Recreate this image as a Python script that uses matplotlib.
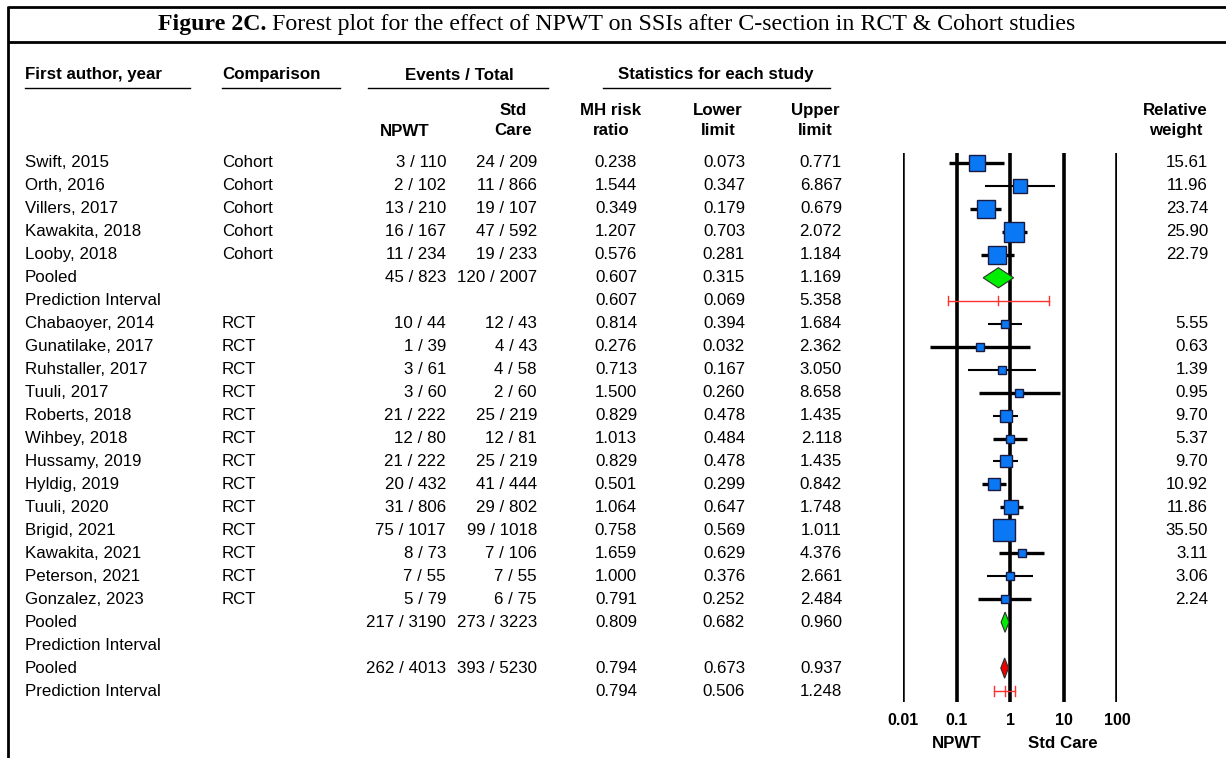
import numpy as np
import matplotlib
matplotlib.use("Agg")
import matplotlib.pyplot as plt
import matplotlib.transforms as mtransforms
from matplotlib.patches import Polygon

# ---- data ----
authors = ["Swift, 2015", "Orth, 2016", "Villers, 2017", "Kawakita, 2018", "Looby, 2018",
           "Pooled", "Prediction Interval",
           "Chabaoyer, 2014", "Gunatilake, 2017", "Ruhstaller, 2017", "Tuuli, 2017",
           "Roberts, 2018", "Wihbey, 2018", "Hussamy, 2019", "Hyldig, 2019", "Tuuli, 2020",
           "Brigid, 2021", "Kawakita, 2021", "Peterson, 2021", "Gonzalez, 2023",
           "Pooled", "Prediction Interval", "Pooled", "Prediction Interval"]
comparison = ["Cohort", "Cohort", "Cohort", "Cohort", "Cohort", "", "",
              "RCT", "RCT", "RCT", "RCT", "RCT", "RCT", "RCT", "RCT", "RCT", "RCT", "RCT",
              "RCT", "RCT", "", "", "", ""]
npwt = ["3 / 110", "2 / 102", "13 / 210", "16 / 167", "11 / 234", "45 / 823", "",
        "10 / 44", "1 / 39", "3 / 61", "3 / 60", "21 / 222", "12 / 80", "21 / 222",
        "20 / 432", "31 / 806", "75 / 1017", "8 / 73", "7 / 55", "5 / 79",
        "217 / 3190", "", "262 / 4013", ""]
std_care = ["24 / 209", "11 / 866", "19 / 107", "47 / 592", "19 / 233", "120 / 2007", "",
            "12 / 43", "4 / 43", "4 / 58", "2 / 60", "25 / 219", "12 / 81", "25 / 219",
            "41 / 444", "29 / 802", "99 / 1018", "7 / 106", "7 / 55", "6 / 75",
            "273 / 3223", "", "393 / 5230", ""]
rr = [0.238, 1.544, 0.349, 1.207, 0.576, 0.607, 0.607,
      0.814, 0.276, 0.713, 1.500, 0.829, 1.013, 0.829, 0.501, 1.064, 0.758, 1.659,
      1.000, 0.791, 0.809, None, 0.794, 0.794]
lower = [0.073, 0.347, 0.179, 0.703, 0.281, 0.315, 0.069,
         0.394, 0.032, 0.167, 0.260, 0.478, 0.484, 0.478, 0.299, 0.647, 0.569, 0.629,
         0.376, 0.252, 0.682, None, 0.673, 0.506]
upper = [0.771, 6.867, 0.679, 2.072, 1.184, 1.169, 5.358,
         1.684, 2.362, 3.050, 8.658, 1.435, 2.118, 1.435, 0.842, 1.748, 1.011, 4.376,
         2.661, 2.484, 0.960, None, 0.937, 1.248]
weight = [15.61, 11.96, 23.74, 25.90, 22.79, None, None,
          5.55, 0.63, 1.39, 0.95, 9.70, 5.37, 9.70, 10.92, 11.86, 35.50, 3.11,
          3.06, 2.24, None, None, None, None]
kind = ["study"] * 5 + ["pooled", "pi"] + ["study"] * 13 + ["pooled", "pi", "overall", "pi"]
axis_ticks = [0.01, 0.1, 1, 10, 100]
axis_labels = ["0.01", "0.1", "1", "10", "100"]

# line weight of each study CI (as drawn in the source), one per study row
thick_ci = [True, False, True, True, True,
            False, True, False, True, False, True, False, True, True, True, True, False, True]

W, H = 1226, 758
fig = plt.figure(figsize=(W / 100, H / 100), dpi=100)
plt.rcParams["font.family"] = ["Liberation Sans", "DejaVu Sans"]

bg = fig.add_axes([0, 0, 1, 1])
bg.set_xlim(0, W)
bg.set_ylim(H, 0)
bg.axis("off")

# forest panel (log scale)
row0, row_h = 163, 22.96
top_px, bot_px = 153, 702
x_left, x_right = 903, 1117
fa = fig.add_axes([x_left / W, 1 - bot_px / H, (x_right - x_left) / W, (bot_px - top_px) / H])
fa.set_xscale("log")
fa.set_xlim(0.01, 100)
fa.set_ylim((bot_px - row0) / row_h, (top_px - row0) / row_h)
for s in fa.spines.values():
    s.set_visible(False)
fa.patch.set_alpha(0)
fa.set_yticks([])
fa.minorticks_off()
fa.set_xticks(axis_ticks, axis_labels)
fa.tick_params(axis="x", length=0, pad=8, labelsize=11.5)
for lab in fa.get_xticklabels():
    lab.set_fontweight("bold")
for t in axis_ticks:
    fa.axvline(t, color="black", lw=1.8 if t == 0.01 else 2.6, zorder=1)

px = 0.72  # points per pixel
j = 0
for i, k in enumerate(kind):
    if rr[i] is None:
        continue
    if k == "study":
        fa.plot([lower[i], upper[i]], [i, i], color="black",
                lw=2.4 if thick_ci[j] else 1.5, solid_capstyle="butt", zorder=3, clip_on=False)
        side = max(8.5, 3.8 * np.sqrt(weight[i]))
        fa.plot([rr[i]], [i], marker="s", ms=side * px, mfc="#0a78f5", mec="#1a1a40",
                mew=1.0, zorder=4, clip_on=False)
        j += 1
    elif k in ("pooled", "overall"):
        col = "#00ee00" if k == "pooled" else "#ee0000"
        h = 0.44
        d = Polygon([[lower[i], i], [rr[i], i - h], [upper[i], i], [rr[i], i + h]],
                    closed=True, fc=col, ec="#303030", lw=0.8, zorder=4, clip_on=False)
        fa.add_patch(d)
    else:
        fa.plot([lower[i], upper[i]], [i, i], color="#ff3030", lw=1.0, zorder=3, clip_on=False)
        for xv in (lower[i], rr[i], upper[i]):
            fa.plot([xv, xv], [i - 0.2, i + 0.2], color="#ff3030", lw=1.0, zorder=3)

# text table, rows share the forest panel's y scale
tr = mtransforms.blended_transform_factory(bg.transData, fa.transData)
fs = 12.2
for i in range(len(authors)):
    bg.text(25, i, authors[i], transform=tr, fontsize=fs, va="center", ha="left")
    bg.text(222, i, comparison[i], transform=tr, fontsize=fs, va="center", ha="left")
    bg.text(446, i, npwt[i], transform=tr, fontsize=fs, va="center", ha="right")
    bg.text(537, i, std_care[i], transform=tr, fontsize=fs, va="center", ha="right")
    if rr[i] is not None:
        bg.text(637, i, f"{rr[i]:.3f}", transform=tr, fontsize=fs, va="center", ha="right")
        bg.text(745, i, f"{lower[i]:.3f}", transform=tr, fontsize=fs, va="center", ha="right")
        bg.text(842, i, f"{upper[i]:.3f}", transform=tr, fontsize=fs, va="center", ha="right")
    if weight[i] is not None:
        bg.text(1208, i, f"{weight[i]:.2f}", transform=tr, fontsize=fs, va="center", ha="right")

# headers
hk = dict(fontsize=12.2, fontweight="bold", va="center")
bg.text(25, 75, "First author, year", ha="left", **hk)
bg.plot([25, 190], [88, 88], color="black", lw=1.0)
bg.text(222, 75, "Comparison", ha="left", **hk)
bg.plot([222, 340], [88, 88], color="black", lw=1.0)
bg.text(459, 75, "Events / Total", ha="center", **hk)
bg.plot([368, 548], [88, 88], color="black", lw=1.0)
bg.text(716, 75, "Statistics for each study", ha="center", **hk)
bg.plot([603, 830], [88, 88], color="black", lw=1.0)
bg.text(405, 131, "NPWT", ha="center", **hk)
bg.text(513, 120.5, "Std\nCare", ha="center", linespacing=1.45, **hk)
bg.text(611, 120.5, "MH risk\nratio", ha="center", linespacing=1.45, **hk)
bg.text(718, 120.5, "Lower\nlimit", ha="center", linespacing=1.45, **hk)
bg.text(815, 120.5, "Upper\nlimit", ha="center", linespacing=1.45, **hk)
bg.text(1208, 120.5, "Relative\nweight", ha="right", multialignment="center",
        linespacing=1.45, **hk)
bg.text(957, 744, "NPWT", ha="center", **hk)
bg.text(1063, 744, "Std Care", ha="center", **hk)

# title box
bg.plot([8, W], [7, 7], color="black", lw=2.0, solid_capstyle="butt")
bg.plot([8, W], [42, 42], color="black", lw=2.0, solid_capstyle="butt")
bg.plot([8, 8], [6, H], color="black", lw=2.0, solid_capstyle="butt")
t1 = bg.text(158, 24.5, "Figure 2C.", fontsize=17.2, fontweight="bold",
             family="Liberation Serif", va="center", ha="left")
bg.annotate(" Forest plot for the effect of NPWT on SSIs after C-section in RCT & Cohort studies",
            xy=(1, 0.5), xycoords=t1, va="center", ha="left", fontsize=17.2,
            family="Liberation Serif")

fig.savefig("out.png", dpi=100)
